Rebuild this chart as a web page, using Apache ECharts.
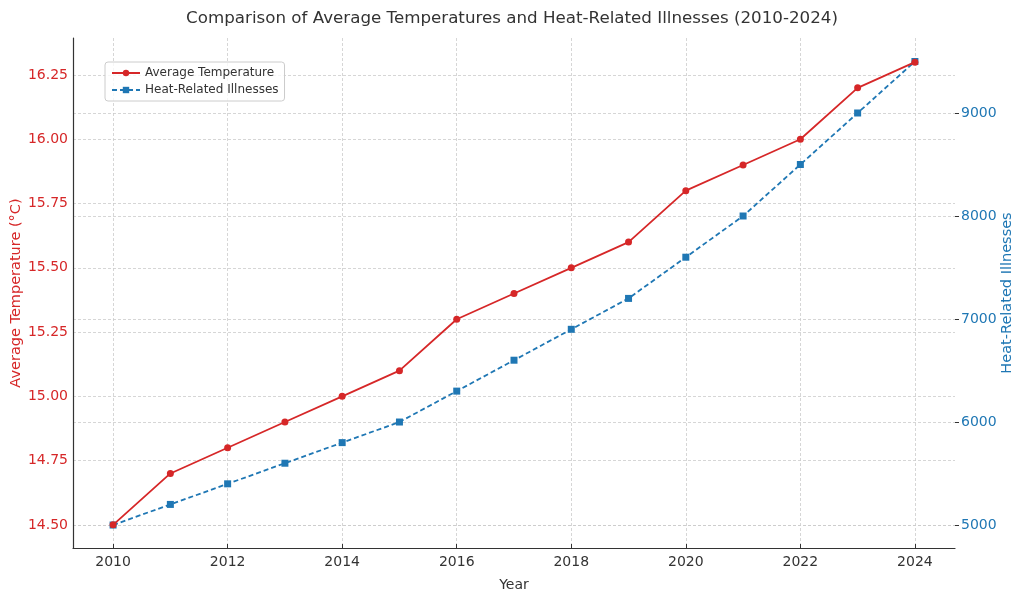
<!DOCTYPE html>
<html><head><meta charset="utf-8">
<script src="https://cdn.jsdelivr.net/npm/echarts@6/dist/echarts.min.js"></script>
<style>html,body{margin:0;padding:0;background:#fff}#c{width:1024px;height:595px}</style>
</head><body><div id="c"></div>
<script>
const years = [2010,2011,2012,2013,2014,2015,2016,2017,2018,2019,2020,2021,2022,2023,2024];
const avgTemp = [14.5,14.7,14.8,14.9,15.0,15.1,15.3,15.4,15.5,15.6,15.8,15.9,16.0,16.2,16.3];
const illnesses = [5000,5200,5400,5600,5800,6000,6300,6600,6900,7200,7600,8000,8500,9000,9500];
const xTicks = [2010,2012,2014,2016,2018,2020,2022,2024];
const tempTicks = [14.5,14.75,15.0,15.25,15.5,15.75,16.0,16.25];
const illTicks = [5000,6000,7000,8000,9000];

const RED = '#d62728', BLUE = '#1f77b4';
const font = 'DejaVu Sans';
const gridLine = {show:true, lineStyle:{color:'#cccccc', type:[3,2], width:0.8}};
const chart = echarts.init(document.getElementById('c'));
chart.setOption({
  animation:false,
  textStyle:{fontFamily:font},
  title:{text:'Comparison of Average Temperatures and Heat-Related Illnesses (2010-2024)',
    left:'center', top:5, textStyle:{fontFamily:font, fontSize:16.7, fontWeight:'normal', color:'#333'}},
  legend:{left:105, top:62, orient:'vertical', itemGap:5, itemWidth:28, itemHeight:8,
    padding:[5,6], borderColor:'#cccccc', borderWidth:1, borderRadius:3, backgroundColor:'rgba(255,255,255,0.8)',
    textStyle:{fontFamily:font, fontSize:12, color:'#333'},
    data:['Average Temperature','Heat-Related Illnesses']},
  grid:{left:73, right:69, top:38, bottom:47, outerBoundsMode:'none', containLabel:false},
  xAxis:{type:'value', min:2009.3, max:2024.7, name:'Year', nameLocation:'middle', nameGap:30, nameMoveOverlap:false,
    nameTextStyle:{fontFamily:font, fontSize:14, color:'#333'},
    axisLine:{show:true, lineStyle:{color:'#333', width:1.2}},
    axisTick:{show:true, inside:true, length:4, customValues:xTicks, lineStyle:{color:'#333'}},
    axisLabel:{customValues:xTicks, fontFamily:font, fontSize:14, color:'#333', margin:7, formatter:v=>String(Math.round(v))},
    splitLine:gridLine},
  yAxis:[
    {type:'value', position:'left', min:14.41, max:16.394, name:'Average Temperature (°C)',
      nameLocation:'middle', nameGap:49, nameMoveOverlap:false, nameTextStyle:{fontFamily:font, fontSize:14.5, color:RED},
      axisLine:{show:true, lineStyle:{color:'#333', width:1.2}},
      axisTick:{show:false, customValues:tempTicks},
      axisLabel:{customValues:tempTicks, fontFamily:font, fontSize:14, color:RED, margin:5, formatter:v=>v.toFixed(2)},
      splitLine:gridLine},
    {type:'value', position:'right', min:4777, max:9728, name:'Heat-Related Illnesses',
      nameLocation:'middle', nameGap:45, nameRotate:90, nameMoveOverlap:false, nameTextStyle:{fontFamily:font, fontSize:14.5, color:BLUE},
      axisLine:{show:false},
      axisTick:{show:true, length:4, customValues:illTicks, lineStyle:{color:'#333'}},
      axisLabel:{customValues:illTicks, fontFamily:font, fontSize:14, color:BLUE, margin:6, formatter:v=>String(v)},
      splitLine:gridLine}
  ],
  series:[
    {name:'Average Temperature', type:'line', yAxisIndex:0, data:years.map((y,i)=>[y,avgTemp[i]]),
      symbol:'circle', symbolSize:7, itemStyle:{color:RED}, lineStyle:{color:RED, width:1.8}, z:3},
    {name:'Heat-Related Illnesses', type:'line', yAxisIndex:1, data:years.map((y,i)=>[y,illnesses[i]]),
      symbol:'rect', symbolSize:7, itemStyle:{color:BLUE}, lineStyle:{color:BLUE, width:1.8, type:[5,3]}, z:2}
  ]
});
</script></body></html>
